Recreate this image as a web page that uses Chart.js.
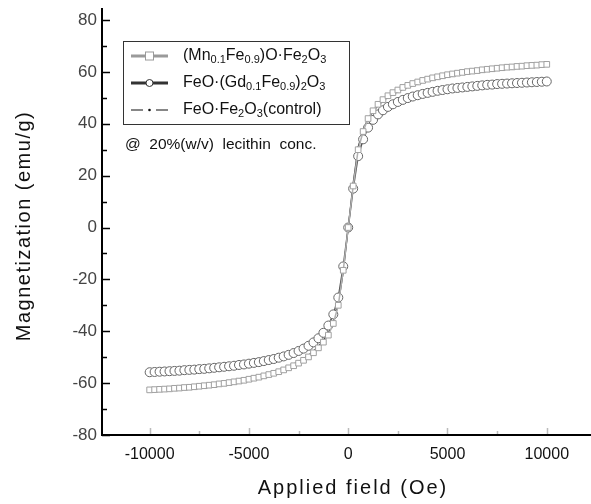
<!DOCTYPE html>
<html>
<head>
<meta charset="utf-8">
<script src="https://cdn.jsdelivr.net/npm/chart.js@4.4.0/dist/chart.umd.min.js"></script>
<style>
  body { margin: 0; background: #fff; }
  canvas { display: block; }
</style>
</head>
<body>
<canvas id="hysChart" width="591" height="504"></canvas>
<script>
// applied field (Oe), one sample every 250 Oe
const fieldOe = [
  -10000, -9750, -9500, -9250, -9000, -8750, -8500, -8250, -8000, -7750,
  -7500, -7250, -7000, -6750, -6500, -6250, -6000, -5750, -5500, -5250,
  -5000, -4750, -4500, -4250, -4000, -3750, -3500, -3250, -3000, -2750,
  -2500, -2250, -2000, -1750, -1500, -1250, -1000, -750, -500, -250,
  0,
  250, 500, 750, 1000, 1250, 1500, 1750, 2000, 2250, 2500,
  2750, 3000, 3250, 3500, 3750, 4000, 4250, 4500, 4750, 5000,
  5250, 5500, 5750, 6000, 6250, 6500, 6750, 7000, 7250, 7500,
  7750, 8000, 8250, 8500, 8750, 9000, 9250, 9500, 9750, 10000
];

// magnetization (emu/g)
const mnFerrite = [
  -62.6, -62.5, -62.4, -62.3, -62.2, -62.0, -61.9, -61.7, -61.6, -61.4,
  -61.2, -61.0, -60.8, -60.6, -60.3, -60.1, -59.8, -59.5, -59.2, -58.9,
  -58.5, -58.1, -57.7, -57.2, -56.7, -56.2, -55.6, -54.9, -54.1, -53.3,
  -52.3, -51.2, -49.9, -48.3, -46.4, -44.2, -41.5, -37.0, -30.0, -16.5,
  0,
  16, 30, 37, 42, 45, 47.5, 49.3, 50.8, 52, 53,
  54, 54.8, 55.5, 56.1, 56.7, 57.2, 57.7, 58.1, 58.5, 58.9,
  59.2, 59.5, 59.8, 60.1, 60.3, 60.5, 60.8, 61.0, 61.2, 61.4,
  61.6, 61.8, 61.9, 62.1, 62.2, 62.4, 62.5, 62.6, 62.8, 62.9
];
const gdFerrite = [
  -55.8, -55.7, -55.6, -55.5, -55.4, -55.3, -55.2, -55.0, -54.9, -54.8,
  -54.6, -54.5, -54.3, -54.1, -53.9, -53.7, -53.5, -53.3, -53.0, -52.8,
  -52.5, -52.2, -51.9, -51.5, -51.1, -50.7, -50.2, -49.7, -49.1, -48.4,
  -47.6, -46.7, -45.6, -44.3, -42.7, -40.6, -37.8, -33.5, -27.0, -15.0,
  0,
  15, 27.5, 34, 38.5, 41.5, 43.6, 45.2, 46.5, 47.5, 48.4,
  49.2, 49.9, 50.5, 51.0, 51.5, 51.9, 52.3, 52.7, 53.0, 53.3,
  53.6, 53.8, 54.0, 54.2, 54.4, 54.6, 54.8, 55.0, 55.1, 55.3,
  55.4, 55.5, 55.6, 55.7, 55.8, 55.9, 56.0, 56.1, 56.2, 56.3
];
const control = [
  -62.0, -61.9, -61.8, -61.7, -61.6, -61.4, -61.3, -61.1, -61.0, -60.8,
  -60.6, -60.4, -60.2, -60.0, -59.8, -59.5, -59.2, -58.9, -58.6, -58.3,
  -57.9, -57.5, -57.1, -56.6, -56.1, -55.6, -55.0, -54.3, -53.5, -52.7,
  -51.7, -50.6, -49.3, -47.7, -45.8, -43.6, -40.8, -36.5, -29.5, -17.0,
  0,
  17, 31, 37.5, 42, 44.8, 47, 48.8, 50.2, 51.4, 52.4,
  53.3, 54.1, 54.8, 55.4, 56, 56.5, 57, 57.4, 57.8, 58.2,
  58.5, 58.8, 59.1, 59.4, 59.6, 59.8, 60.1, 60.3, 60.5, 60.7,
  60.9, 61.1, 61.2, 61.4, 61.5, 61.7, 61.8, 61.9, 62.1, 62.2
];

const xTicks = [-10000, -5000, 0, 5000, 10000];
const yTicks = [-80, -60, -40, -20, 0, 20, 40, 60, 80];

// legend labels, split so the subscripts can be drawn smaller
const legendLabels = [
  [['(Mn'], ['0.1', 1], ['Fe'], ['0.9', 1], [')O\u00b7Fe'], ['2', 1], ['O'], ['3', 1]],
  [['FeO\u00b7(Gd'], ['0.1', 1], ['Fe'], ['0.9', 1], [')'], ['2', 1], ['O'], ['3', 1]],
  [['FeO\u00b7Fe'], ['2', 1], ['O'], ['3', 1], ['(control)']]
];
const noteText = '@  20%(w/v)  lecithin  conc.';
const xTitle = 'Applied field (Oe)';
const yTitle = 'Magnetization (emu/g)';

const FONT = '"Liberation Sans", Arial, sans-serif';

function pts(ys) {
  return fieldOe.map((h, i) => ({ x: h, y: ys[i] }));
}

// axes with inward ticks and spaced-out titles
const axesPlugin = {
  id: 'axes',
  afterDraw(chart) {
    const { ctx, chartArea } = chart;
    const xs = chart.scales.x, ys = chart.scales.y;
    ctx.save();
    ctx.strokeStyle = '#bbb';
    ctx.lineWidth = 1.5;
    for (let v = -10000; v <= 10000; v += 2500) {
      const px = Math.round(xs.getPixelForValue(v)) + 0.5;
      ctx.beginPath();
      ctx.moveTo(px, chartArea.bottom);
      ctx.lineTo(px, chartArea.bottom - (v % 5000 === 0 ? 7 : 4));
      ctx.stroke();
    }
    ctx.strokeStyle = '#000';
    for (let v = -80; v <= 80; v += 10) {
      const py = Math.round(ys.getPixelForValue(v)) + 0.5;
      ctx.beginPath();
      ctx.moveTo(chartArea.left, py);
      ctx.lineTo(chartArea.left + (v % 20 === 0 ? 8 : 5), py);
      ctx.stroke();
    }
    ctx.lineWidth = 2;
    ctx.beginPath();
    ctx.moveTo(chartArea.left, ys.getPixelForValue(80) - 12);
    ctx.lineTo(chartArea.left, chartArea.bottom);
    ctx.lineTo(chart.width, chartArea.bottom);
    ctx.stroke();

    // titles
    ctx.fillStyle = '#111';
    ctx.font = '20px ' + FONT;
    ctx.textAlign = 'center';
    ctx.textBaseline = 'middle';
    ctx.letterSpacing = '2px';
    ctx.fillText(xTitle, 353, 488);
    ctx.translate(24, 226);
    ctx.rotate(-Math.PI / 2);
    ctx.letterSpacing = '1.5px';
    ctx.fillText(yTitle, 0, 0);
    ctx.restore();
  }
};

const legendPlugin = {
  id: 'subLegend',
  afterDraw(chart) {
    const ctx = chart.ctx;
    ctx.save();
    ctx.letterSpacing = '0px';
    ctx.strokeStyle = '#333';
    ctx.lineWidth = 1;
    ctx.strokeRect(123.5, 41.5, 226, 83);

    const rowY = [56, 83, 110];
    const x0 = 131, x1 = 168, xm = 149.5;
    ctx.strokeStyle = '#9a9a9a';
    ctx.lineWidth = 3;
    ctx.beginPath(); ctx.moveTo(x0, rowY[0]); ctx.lineTo(x1, rowY[0]); ctx.stroke();
    ctx.fillStyle = '#fff';
    ctx.lineWidth = 1;
    ctx.fillRect(xm - 4, rowY[0] - 4, 8, 8);
    ctx.strokeRect(xm - 4, rowY[0] - 4, 8, 8);
    ctx.strokeStyle = '#333';
    ctx.lineWidth = 3;
    ctx.beginPath(); ctx.moveTo(x0, rowY[1]); ctx.lineTo(x1, rowY[1]); ctx.stroke();
    ctx.lineWidth = 1;
    ctx.beginPath(); ctx.arc(xm, rowY[1], 3.5, 0, Math.PI * 2); ctx.fill(); ctx.stroke();
    ctx.strokeStyle = '#111';
    ctx.lineWidth = 1.2;
    ctx.beginPath();
    ctx.moveTo(x0, rowY[2]); ctx.lineTo(x0 + 12, rowY[2]);
    ctx.moveTo(x1 - 12, rowY[2]); ctx.lineTo(x1, rowY[2]);
    ctx.stroke();
    ctx.fillStyle = '#111';
    ctx.beginPath(); ctx.arc(xm, rowY[2], 1.3, 0, Math.PI * 2); ctx.fill();

    ctx.textBaseline = 'middle';
    ctx.textAlign = 'left';
    legendLabels.forEach((parts, r) => {
      let x = 183;
      parts.forEach(([t, sub]) => {
        ctx.font = (sub ? '11px ' : '16px ') + FONT;
        ctx.fillText(t, x, rowY[r] + (sub ? 4 : 0));
        x += ctx.measureText(t).width;
      });
    });
    ctx.font = '15.5px ' + FONT;
    ctx.fillText(noteText, 125, 145);
    ctx.restore();
  }
};

new Chart(document.getElementById('hysChart').getContext('2d'), {
  type: 'scatter',
  data: {
    datasets: [
      {
        label: '(Mn0.1Fe0.9)O\u00b7Fe2O3',
        data: pts(mnFerrite),
        showLine: true,
        borderColor: '#b0b0b0',
        borderWidth: 1.5,
        pointStyle: 'rect',
        pointRadius: 4,
        pointBorderWidth: 1,
        pointBorderColor: '#a0a0a0',
        pointBackgroundColor: '#fff'
      },
      {
        label: 'FeO\u00b7(Gd0.1Fe0.9)2O3',
        data: pts(gdFerrite),
        showLine: true,
        borderColor: '#555',
        borderWidth: 1.5,
        pointStyle: 'circle',
        pointRadius: 4.5,
        pointBorderWidth: 1,
        pointBorderColor: '#666',
        pointBackgroundColor: '#fff'
      },
      {
        label: 'FeO\u00b7Fe2O3(control)',
        data: pts(control),
        showLine: true,
        borderColor: '#222',
        borderWidth: 1.3,
        pointRadius: 0.8,
        pointBackgroundColor: '#222',
        pointBorderWidth: 0
      }
    ]
  },
  options: {
    responsive: false,
    animation: false,
    devicePixelRatio: 1,
    layout: { padding: { top: 20, right: 0, left: 0, bottom: 0 } },
    plugins: {
      legend: { display: false },
      tooltip: { enabled: false }
    },
    scales: {
      x: {
        type: 'linear',
        min: -12400,
        max: 11950,
        afterBuildTicks: s => { s.ticks = xTicks.map(v => ({ value: v })); },
        afterFit: s => { s.height = 69; },
        grid: { display: false, drawTicks: false },
        border: { display: false },
        ticks: { color: '#111', font: { family: FONT, size: 16 }, padding: 10, maxRotation: 0, callback: v => String(v) }
      },
      y: {
        type: 'linear',
        min: -80,
        max: 80,
        afterBuildTicks: s => { s.ticks = yTicks.map(v => ({ value: v })); },
        afterFit: s => { s.width = 102; },
        grid: { display: false, drawTicks: false },
        border: { display: false },
        ticks: { color: '#444', font: { family: FONT, size: 17 }, padding: 5 }
      }
    }
  },
  plugins: [axesPlugin, legendPlugin]
});
</script>
</body>
</html>
